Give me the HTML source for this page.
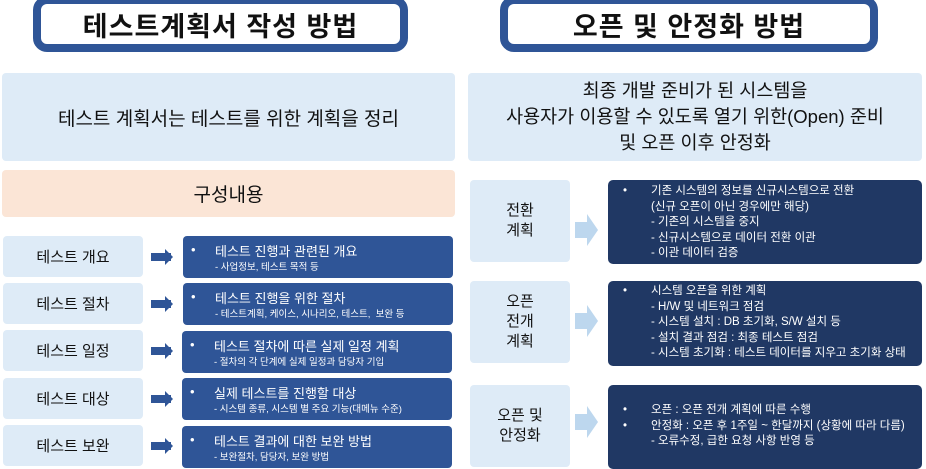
<!DOCTYPE html>
<html><head><meta charset="utf-8"><style>
*{margin:0;padding:0;box-sizing:border-box}
body{width:926px;height:469px;background:#fff;position:relative;overflow:hidden;font-family:"Liberation Sans","Noto Sans CJK KR",sans-serif;}
.a{position:absolute}
.title{border:8px solid #2f5597;border-radius:14px;background:#fff;display:flex;align-items:center;justify-content:center;font-size:27px;font-weight:bold;color:#111;letter-spacing:1px}
.lb{background:#deebf7;border-radius:4px;display:flex;align-items:center;justify-content:center;text-align:center;color:#111}
.dk{background:#2f5597;border-radius:4px;color:#fff}
.dr{background:#203864;border-radius:5px;color:#fff;font-size:11.5px;line-height:15.5px;padding-left:15px}
.arr{width:20px;height:8px;background:#2f5597}
.arr:after{content:"";position:absolute;left:14px;top:-4px;border-left:8px solid #2f5597;border-top:8px solid transparent;border-bottom:8px solid transparent}
.lar{width:14px;height:16px;background:#bdd7ee}
.lar:after{content:"";position:absolute;left:12px;top:-8px;border-left:11px solid #bdd7ee;border-top:16px solid transparent;border-bottom:16px solid transparent}
.row{display:flex}
.bul{width:28px}
</style></head><body>
<div class="a title" style="left:33px;top:-4px;width:375px;height:56px">테스트계획서 작성 방법</div>
<div class="a title" style="left:500px;top:-4px;width:378px;height:56px">오픈 및 안정화 방법</div>
<div class="a lb" style="left:2px;top:73px;width:453px;height:88px;font-size:19px">테스트 계획서는 테스트를 위한 계획을 정리</div>
<div class="a lb" style="left:468px;top:73px;width:454px;height:88px;font-size:18.5px;line-height:26px">최종 개발 준비가 된 시스템을<br>사용자가 이용할 수 있도록 열기 위한(Open) 준비<br>및 오픈 이후 안정화</div>
<div class="a lb" style="left:2px;top:170px;width:453px;height:47px;background:#fbe5d6;font-size:19px">구성내용</div>

<div class="a lb" style="left:3px;top:236px;width:140px;height:41px;font-size:15px">테스트 개요</div>
<div class="a lb" style="left:3px;top:283px;width:140px;height:41px;font-size:15px">테스트 절차</div>
<div class="a lb" style="left:3px;top:330px;width:140px;height:41px;font-size:15px">테스트 일정</div>
<div class="a lb" style="left:3px;top:378px;width:140px;height:41px;font-size:15px">테스트 대상</div>
<div class="a lb" style="left:3px;top:425px;width:140px;height:41px;font-size:15px">테스트 보완</div>
<div class="a arr" style="left:151px;top:253px"></div>
<div class="a arr" style="left:151px;top:300px"></div>
<div class="a arr" style="left:151px;top:347px"></div>
<div class="a arr" style="left:151px;top:395px"></div>
<div class="a arr" style="left:151px;top:442px"></div>

<div class="a dk" style="left:183px;top:236px;width:270px;height:42px"><div class="a" style="left:8px;top:6px;font-size:13px">•</div><div class="a" style="left:32px;top:5px;font-size:13px">테스트 진행과 관련된 개요</div><div class="a" style="left:32px;top:23px;font-size:9.5px">- 사업정보, 테스트 목적 등</div></div>
<div class="a dk" style="left:183px;top:283px;width:270px;height:42px"><div class="a" style="left:8px;top:6px;font-size:13px">•</div><div class="a" style="left:32px;top:5px;font-size:13px">테스트 진행을 위한 절차</div><div class="a" style="left:32px;top:23px;font-size:9.5px">- 테스트계획, 케이스, 시나리오, 테스트, &nbsp;보완 등</div></div>
<div class="a dk" style="left:182px;top:331px;width:270px;height:42px"><div class="a" style="left:8px;top:6px;font-size:13px">•</div><div class="a" style="left:32px;top:5px;font-size:13px">테스트 절차에 따른 실제 일정 계획</div><div class="a" style="left:32px;top:23px;font-size:9.5px">- 절차의 각 단계에 실제 일정과 담당자 기입</div></div>
<div class="a dk" style="left:182px;top:378px;width:270px;height:42px"><div class="a" style="left:8px;top:6px;font-size:13px">•</div><div class="a" style="left:32px;top:5px;font-size:13px">실제 테스트를 진행할 대상</div><div class="a" style="left:32px;top:23px;font-size:9.5px">- 시스템 종류, 시스템 별 주요 기능(대메뉴 수준)</div></div>
<div class="a dk" style="left:182px;top:426px;width:270px;height:42px"><div class="a" style="left:8px;top:6px;font-size:13px">•</div><div class="a" style="left:32px;top:5px;font-size:13px">테스트 결과에 대한 보완 방법</div><div class="a" style="left:32px;top:23px;font-size:9.5px">- 보완절차, 담당자, 보완 방법</div></div>

<div class="a lb" style="left:470px;top:180px;width:100px;height:82px;font-size:15px;line-height:20px">전환<br>계획</div>
<div class="a lb" style="left:470px;top:281px;width:100px;height:82px;font-size:15px;line-height:20px">오픈<br>전개<br>계획</div>
<div class="a lb" style="left:470px;top:385px;width:100px;height:82px;font-size:15px;line-height:20px">오픈 및<br>안정화</div>
<div class="a lar" style="left:575px;top:222px"></div>
<div class="a lar" style="left:575px;top:313px"></div>
<div class="a lar" style="left:575px;top:414px"></div>

<div class="a dr" style="left:608px;top:180px;width:314px;height:84px;padding-top:4px">
<div class="row"><span class="bul">•</span><span>기존 시스템의 정보를 신규시스템으로 전환<br>(신규 오픈이 아닌 경우에만 해당)<br>- 기존의 시스템을 중지<br>- 신규시스템으로 데이터 전환 이관<br>- 이관 데이터 검증</span></div></div>
<div class="a dr" style="left:608px;top:281px;width:314px;height:85px;padding-top:3px">
<div class="row"><span class="bul">•</span><span>시스템 오픈을 위한 계획<br>- H/W 및 네트워크 점검<br>- 시스템 설치 : DB 초기화, S/W 설치 등<br>- 설치 결과 점검 : 최종 테스트 점검<br>- 시스템 초기화 : 테스트 데이터를 지우고 초기화 상태</span></div></div>
<div class="a dr" style="left:608px;top:385px;width:314px;height:84px;padding-top:18px">
<div class="row"><span class="bul">•</span><span>오픈 : 오픈 전개 계획에 따른 수행</span></div>
<div class="row"><span class="bul">•</span><span>안정화 : 오픈 후 1주일 ~ 한달까지 (상황에 따라 다름)<br>- 오류수정, 급한 요청 사항 반영 등</span></div></div>
</body></html>
